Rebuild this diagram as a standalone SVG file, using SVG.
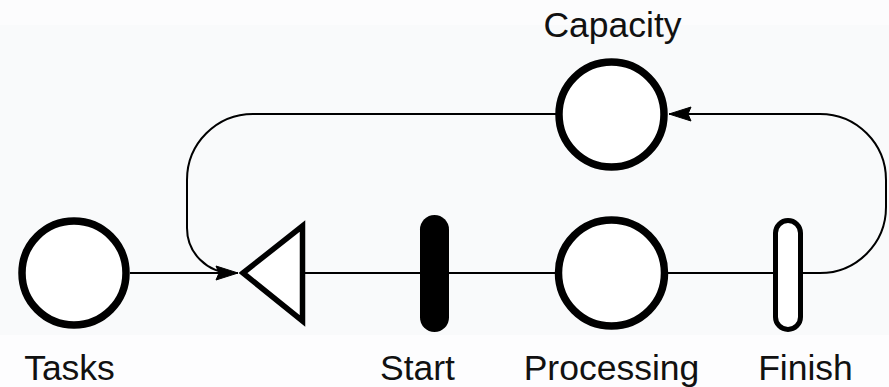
<svg xmlns="http://www.w3.org/2000/svg" width="889" height="387" viewBox="0 0 889 387">
<style>
.place{fill:#fff;stroke:#000;stroke-width:7.5}
.edge{fill:none;stroke:#000;stroke-width:2}
.lbl{font-family:"Liberation Sans",Arial,sans-serif;font-size:35.5px;fill:#111;text-anchor:middle}
</style>
<defs>
<marker id="arr" markerUnits="userSpaceOnUse" viewBox="-24 -10 26 20" markerWidth="26" markerHeight="20" refX="0" refY="0" orient="auto">
<path d="M-22,-7 L0,0 L-22,7 L-19,0 Z" fill="#000" stroke="#000" stroke-width="1" stroke-linejoin="round"/>
</marker>
</defs>
<rect width="889" height="387" fill="#f9fafb"/>
<polygon points="0,0 889,0 889,25 0,25" fill="#fcfcfd"/>
<polygon points="0,335 889,335 889,387 0,387" fill="#fdfdfe"/>
<g id="connectors">
<path class="edge" d="M130,273 H238"/>
<path class="edge" d="M305,273 H420"/>
<path class="edge" d="M449,273 H556"/>
<path class="edge" d="M667,273 H775"/>
<path class="edge" d="M801,273 H820 A66,66 0 0 0 886,207 V180 A66,66 0 0 0 820,114 H669" marker-end="url(#arr)"/>
<path class="edge" d="M556,114 H253 A66,66 0 0 0 187,180 V228 A45,45 0 0 0 232,273 H238" marker-end="url(#arr)"/>
</g>
<g id="tasks">
<circle class="place" cx="74" cy="273" r="52"/>
<text class="lbl" x="69.5" y="380">Tasks</text>
</g>
<g id="join">
<polygon points="243,273 302.5,226 302.5,321" fill="#fff" stroke="#000" stroke-width="5.5" stroke-linejoin="miter"/>
</g>
<g id="start">
<rect x="420" y="215" width="29" height="117" rx="14.5" fill="#000"/>
<text class="lbl" x="417.5" y="380">Start</text>
</g>
<g id="processing">
<circle class="place" cx="611.5" cy="273" r="53"/>
<text class="lbl" x="611.5" y="380">Processing</text>
</g>
<g id="finish">
<rect x="775.5" y="220.5" width="25" height="109" rx="12.5" fill="#fff" stroke="#000" stroke-width="5"/>
<text class="lbl" x="805.5" y="380">Finish</text>
</g>
<g id="capacity">
<circle class="place" cx="611.5" cy="114.5" r="52.5"/>
<text class="lbl" x="612.5" y="37">Capacity</text>
</g>
</svg>
